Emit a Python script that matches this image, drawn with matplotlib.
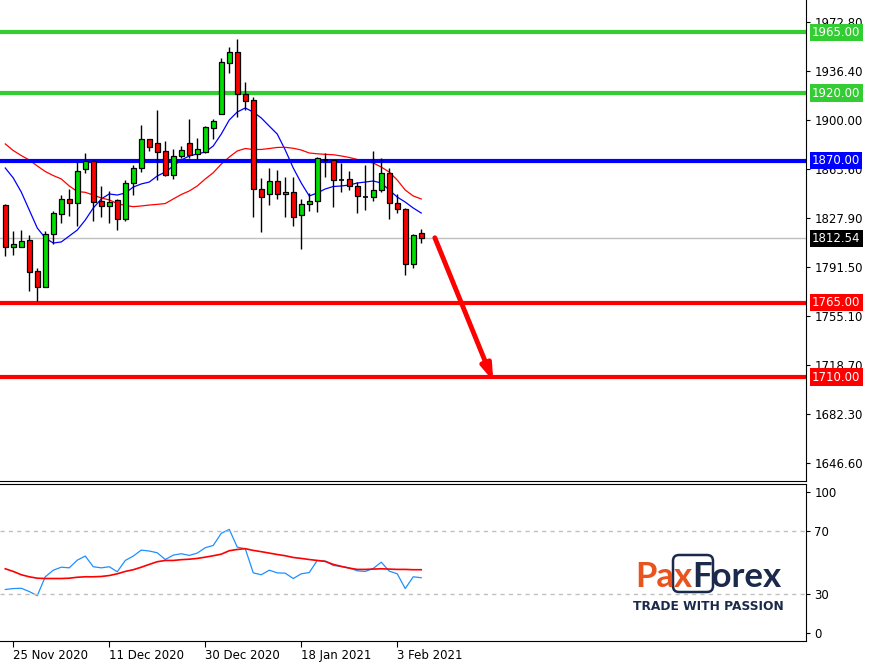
import numpy as np
import pandas as pd
import matplotlib
matplotlib.use('Agg')
import matplotlib.pyplot as plt
from matplotlib.patches import Rectangle, FancyBboxPatch
from matplotlib.offsetbox import TextArea, HPacker, AnnotationBbox

# daily bars, 24 Nov 2020 .. 8 Feb 2021 (no bars on 25 Dec and 1 Jan)
days = pd.bdate_range('2020-11-24', '2021-02-08')
days = days[~days.isin(pd.to_datetime(['2020-12-25', '2021-01-01']))]

opens = [1837.2, 1806.4, 1806.4, 1811.4, 1788.4, 1776.8, 1815.6, 1830.4, 1841.5, 1838.5,
         1863.6, 1869.8, 1840.2, 1836.3, 1840.7, 1827.1, 1853.5, 1864.4, 1885.8, 1882.9,
         1877.0, 1859.6, 1873.3, 1882.9, 1874.7, 1876.7, 1894.0, 1904.3, 1942.0, 1950.2,
         1919.3, 1914.7, 1848.9, 1845.2, 1854.8, 1845.2, 1846.6, 1829.6, 1837.8, 1840.0,
         1870.5, 1870.5, 1855.7, 1856.2, 1851.3, 1843.4, 1842.9, 1848.1, 1860.9, 1838.5,
         1834.1, 1793.4, 1816.3]
highs = [1838.0, 1818.0, 1818.7, 1815.0, 1790.9, 1818.2, 1833.0, 1844.6, 1849.1, 1869.3,
         1875.5, 1870.5, 1851.3, 1847.8, 1841.7, 1855.7, 1866.8, 1896.4, 1886.1, 1907.5,
         1884.6, 1878.4, 1880.9, 1900.8, 1886.8, 1895.5, 1900.8, 1945.7, 1954.1, 1959.8,
         1928.2, 1917.3, 1857.0, 1864.4, 1862.9, 1857.7, 1857.7, 1841.7, 1845.9, 1872.5,
         1875.5, 1870.5, 1868.1, 1862.4, 1854.2, 1866.6, 1877.0, 1871.8, 1864.4, 1845.2,
         1834.8, 1815.6, 1819.3]
lows = [1799.5, 1800.2, 1805.9, 1773.9, 1766.2, 1776.4, 1808.2, 1824.1, 1829.1, 1821.7,
        1860.7, 1825.6, 1828.6, 1824.1, 1818.7, 1825.6, 1844.9, 1861.9, 1877.2, 1855.7,
        1858.9, 1856.5, 1871.8, 1871.8, 1871.5, 1875.9, 1885.8, 1904.3, 1934.6, 1902.1,
        1907.5, 1828.6, 1817.5, 1837.5, 1841.7, 1828.6, 1821.9, 1804.9, 1833.0, 1832.3,
        1858.2, 1836.0, 1847.1, 1848.3, 1831.5, 1833.5, 1840.0, 1846.6, 1826.9, 1831.1,
        1785.2, 1790.9, 1808.9]
closes = [1806.4, 1808.2, 1810.6, 1787.9, 1776.8, 1815.6, 1831.1, 1841.5, 1838.5, 1862.2,
          1869.8, 1839.7, 1836.7, 1839.2, 1827.1, 1853.5, 1864.4, 1886.1, 1880.4, 1876.7,
          1859.6, 1873.3, 1877.7, 1874.0, 1878.4, 1894.7, 1899.1, 1942.8, 1950.2, 1919.1,
          1913.9, 1848.9, 1843.4, 1854.8, 1845.2, 1846.6, 1828.1, 1837.8, 1840.0, 1871.8,
          1870.5, 1855.5, 1855.7, 1851.3, 1844.1, 1843.4, 1848.1, 1860.9, 1838.5, 1834.1,
          1793.4, 1814.8, 1812.54]

ma_fast = [1864.6, 1857.2, 1846.8, 1833.5, 1820.2, 1812.8, 1809.1, 1809.9, 1814.3, 1818.7,
           1826.1, 1835.0, 1841.7, 1845.4, 1844.6, 1846.1, 1850.5, 1852.8, 1854.2, 1858.7,
           1861.6, 1866.1, 1870.5, 1873.5, 1875.0, 1876.4, 1880.9, 1889.7, 1900.1, 1906.0,
           1909.0, 1906.0, 1901.6, 1895.6, 1889.7, 1877.9, 1864.6, 1853.5, 1843.9, 1846.1,
           1849.1, 1850.9, 1851.3, 1852.0, 1853.5, 1854.2, 1855.0, 1853.5, 1848.3, 1843.1,
           1839.4, 1835.0, 1831.3]
ma_slow = [1882.4, 1877.5, 1873.8, 1870.5, 1866.1, 1862.0, 1859.0, 1856.5, 1851.3, 1847.2,
           1846.6, 1844.6, 1842.4, 1841.0, 1838.3, 1836.9, 1836.0, 1836.5, 1837.2, 1837.7,
           1838.3, 1841.7, 1845.0, 1847.6, 1851.3, 1856.5, 1861.1, 1867.5, 1872.7, 1877.2,
           1879.0, 1878.3, 1878.3, 1879.0, 1879.8, 1879.9, 1879.2, 1877.9, 1875.7, 1875.1,
           1874.7, 1874.4, 1873.5, 1872.4, 1870.9, 1869.4, 1868.3, 1865.3, 1861.6, 1855.7,
           1848.3, 1843.9, 1841.7]

osc = [32.8, 33.4, 33.6, 31.5, 28.9, 40.9, 45.1, 47.0, 46.6, 51.5,
       54.1, 47.3, 46.6, 47.3, 44.1, 51.3, 54.1, 57.9, 57.3, 56.2,
       51.9, 54.7, 55.6, 54.5, 56.0, 59.4, 60.9, 68.6, 71.1, 59.8,
       58.8, 43.4, 42.2, 45.1, 43.4, 43.2, 39.8, 42.8, 43.6, 51.3,
       50.9, 48.1, 47.5, 46.6, 44.7, 44.3, 46.2, 50.2, 44.5, 42.8,
       33.4, 40.9, 40.3]
osc_signal = [46.0, 44.3, 42.2, 40.9, 40.0, 39.8, 39.8, 39.8, 40.0, 40.6,
              40.9, 40.9, 41.1, 41.7, 42.8, 44.3, 45.4, 47.0, 48.8, 50.5,
              51.3, 51.3, 51.8, 52.1, 52.6, 53.4, 54.3, 55.3, 57.5, 58.3,
              58.8, 57.7, 56.9, 56.0, 55.1, 54.3, 53.2, 52.6, 51.9, 51.3,
              50.7, 48.8, 47.5, 46.4, 45.6, 45.6, 45.8, 46.0, 45.8, 45.6,
              45.6, 45.4, 45.4]

green_levels = [1965.0, 1920.0]
blue_level = 1870.0
red_levels = [1765.0, 1710.0]
last_price = 1812.54
price_ticks = [1972.80, 1936.40, 1900.00, 1863.60, 1827.90, 1791.50, 1755.10, 1718.70, 1682.30, 1646.60]
osc_levels = [30, 70]
date_ticks = ['2020-11-25', '2020-12-11', '2020-12-30', '2021-01-18', '2021-02-03']
# forecast arrow: (bar index, price)
arrow_from = (53.7, 1813.0)
arrow_to = (61.0, 1707.0)

UP = '#00E000'
DOWN = '#FF0000'
LIME = '#33CC33'
NAVY = '#1B2A4A'

W, H = 870, 665
fig = plt.figure(figsize=(W / 100, H / 100), dpi=100)
ax = fig.add_axes([0, 1 - 481 / H, 806 / W, 481 / H])
ax2 = fig.add_axes([0, 1 - 641 / H, 806 / W, 157 / H])

x = np.arange(len(days))

# candles
for i in x:
    o, h, l, c = opens[i], highs[i], lows[i], closes[i]
    ax.vlines(i, l, h, color='black', lw=1, zorder=3)
    if abs(c - o) < 0.05:
        ax.hlines(o, i - 0.3, i + 0.3, color='black', lw=1.2, zorder=4)
    else:
        col = UP if c > o else DOWN
        ax.add_patch(Rectangle((i - 0.3, min(o, c)), 0.6, abs(c - o),
                               fc=col, ec='black', lw=0.9, zorder=4))

ax.plot(x, ma_fast, color='#0000FF', lw=0.9, zorder=2)
ax.plot(x, ma_slow, color='#FF0000', lw=0.9, zorder=2)

# levels
ax.axhline(last_price, color='#C0C0C0', lw=1, zorder=1)
for lv in green_levels:
    ax.axhline(lv, color=LIME, lw=3, zorder=2)
ax.axhline(blue_level, color='#0000FF', lw=3, zorder=2)
for lv in red_levels:
    ax.axhline(lv, color='#FF0000', lw=3, zorder=2)

ax.annotate('', xy=arrow_to, xytext=arrow_from,
            arrowprops=dict(arrowstyle='-|>,head_length=0.9,head_width=0.3',
                            color='#FF0000', lw=3.5, shrinkA=0, shrinkB=0), zorder=5)

ax.set_xlim(-0.66, 100.1)
ax.set_ylim(1633.1, 1988.85)
ax.yaxis.tick_right()
ax.set_yticks(price_ticks)
ax.set_yticklabels(['%.2f' % t for t in price_ticks])
ax.tick_params(axis='y', length=3, pad=3, labelsize=8.5, direction='out')
ax.set_xticks([])
for s in ['top', 'left']:
    ax.spines[s].set_visible(False)

# price boxes on the scale
tr = ax.get_yaxis_transform()
boxes = [(g, LIME) for g in green_levels] + [(blue_level, '#0000FF'), (last_price, 'black')] + \
        [(r, '#FF0000') for r in red_levels]
for lv, col in boxes:
    ax.text(1.0075, lv, '%.2f' % lv, transform=tr, ha='left', va='center',
            fontsize=8.5, color='white', clip_on=False, zorder=6,
            bbox=dict(boxstyle='square,pad=0.18', fc=col, ec='none'))

# oscillator
ax2.plot(x, osc, color='#1E90FF', lw=0.9)
ax2.plot(x, osc_signal, color='#FF0000', lw=1.2)
for lv in osc_levels:
    ax2.axhline(lv, color='#C0C0C0', lw=1, ls=(0, (3, 3)))
ax2.set_xlim(-0.66, 100.1)
ax2.set_ylim(0, 100)
ax2.yaxis.tick_right()
ax2.set_yticks([5, 30, 70, 95])
ax2.set_yticklabels(['0', '30', '70', '100'])
ax2.tick_params(axis='y', length=3, pad=3, labelsize=8.5)
ax2.spines['left'].set_visible(False)

tick_idx = [list(days).index(pd.Timestamp(d)) for d in date_ticks]
ax2.set_xticks(tick_idx)
ax2.set_xticklabels(['%d %s' % (days[i].day, days[i].strftime('%b %Y')) for i in tick_idx],
                    ha='left')
ax2.tick_params(axis='x', length=4, pad=2, labelsize=8.5)

# logo
fig.add_artist(FancyBboxPatch((673, H - 592), 40, 37, transform=None,
                              boxstyle='round,pad=0,rounding_size=6',
                              fc='none', ec=NAVY, lw=1.8, zorder=1))
pax = TextArea('Pax', textprops=dict(color='#E8531E', fontsize=25, fontweight='bold',
                                     family='Lato'))
frx = TextArea('Forex', textprops=dict(color=NAVY, fontsize=25, fontweight='bold',
                                       family='Lato'))
logo = HPacker(children=[pax, frx], pad=0, sep=0)
ab = AnnotationBbox(logo, (708 / W, 1 - 577 / H), xycoords='figure fraction',
                    frameon=False, box_alignment=(0.5, 0.5), zorder=3)
fig.add_artist(ab)
fig.text(708 / W, 1 - 606 / H, 'TRADE WITH PASSION', ha='center', va='center',
         fontsize=8.8, fontweight='bold', color=NAVY, family='DejaVu Sans')

fig.savefig('out.png', dpi=100)
